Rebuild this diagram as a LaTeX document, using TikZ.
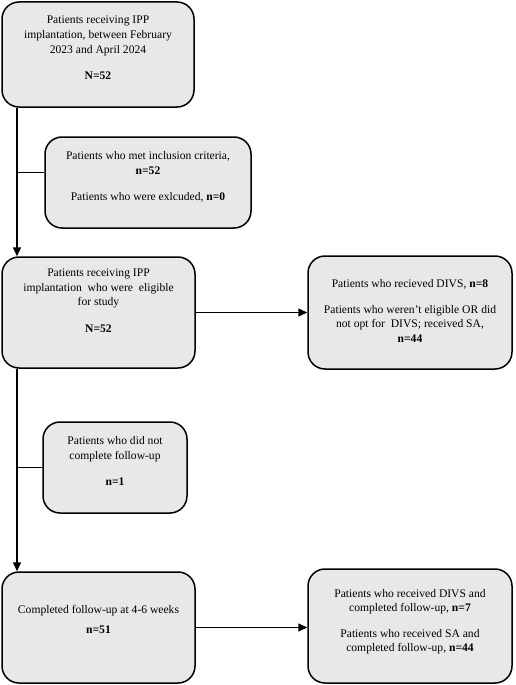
\documentclass[tikz,border=0pt]{standalone}
\usepackage{fontspec}
\setmainfont{Liberation Serif}
\usetikzlibrary{arrows.meta}
\definecolor{boxgrey}{HTML}{E8E8E8}
\newcommand{\lowpad}[1]{\rule[-#1]{0pt}{#1}}

\begin{document}
\begin{tikzpicture}[x=1pt,y=-1pt]
\tikzset{greybox/.style={draw,line width=1.5pt,fill=boxgrey,rounded corners=17pt,align=center,inner sep=2pt,
font=\fontsize{11.6}{14.6}\selectfont},
flowline/.style={line width=1.5pt},
flowarrow/.style={line width=1.5pt,-{Triangle[length=9pt,width=8pt]}}}

\useasboundingbox (0,0) rectangle (515,685);

\node (b1) [greybox,minimum width=192,minimum height=105] at (98,54.5)
  {Patients receiving IPP\\implantation, between February\\2023 and April 2024\\[12pt]\textbf{N=52}\lowpad{13pt}};
\node (b2) [greybox,minimum width=206,minimum height=91] at (148,182.5)
  {Patients who met inclusion criteria,\\\textbf{n=52}\\[11pt]Patients who were exlcuded, \textbf{n=0}\lowpad{13pt}};
\node (b3) [greybox,minimum width=193,minimum height=111] at (98.5,312.5)
  {Patients receiving IPP\\implantation~ who were~ eligible\\for study\\[12pt]\textbf{N=52}\lowpad{24pt}};
\node (b4) [greybox,minimum width=204,minimum height=113] at (410,312.5)
  {Patients who recieved DIVS, \textbf{n=8}\\[11pt]Patients who weren’t eligible OR did\\not opt for~ DIVS; received SA,\\\textbf{n=44}\lowpad{3pt}};
\node (b5) [greybox,minimum width=144,minimum height=91] at (115,467.5)
  {Patients who did not\\complete follow-up\\[12pt]\textbf{n=1}\lowpad{13pt}};
\node (b6) [greybox,minimum width=193,minimum height=111] at (98.5,627.5)
  {Completed follow-up at 4-6 weeks\\[5pt]\textbf{n=51}\lowpad{16pt}};
\node (b7) [greybox,minimum width=204,minimum height=114] at (410,626)
  {Patients who received DIVS and\\completed follow-up, \textbf{n=7}\\[11pt]Patients who received SA and\\completed follow-up, \textbf{n=44}\lowpad{11pt}};

\coordinate (trunk) at (17,0);
\coordinate (j2) at ([yshift=10pt]b2.west);

%% Edges
\draw[flowarrow] (b1.south -| trunk) -- (b3.north -| trunk);
\draw[flowline] (j2) -- (j2 -| trunk);
\draw[flowarrow] (b3.east) -- (b4.west);
\draw[flowarrow] (b3.south -| trunk) -- (b6.north -| trunk);
\draw[flowline] (b5.west) -- (b5.west -| trunk);
\draw[flowarrow] (b6.east) -- (b6.east -| b7.west);

\end{tikzpicture}
\end{document}
